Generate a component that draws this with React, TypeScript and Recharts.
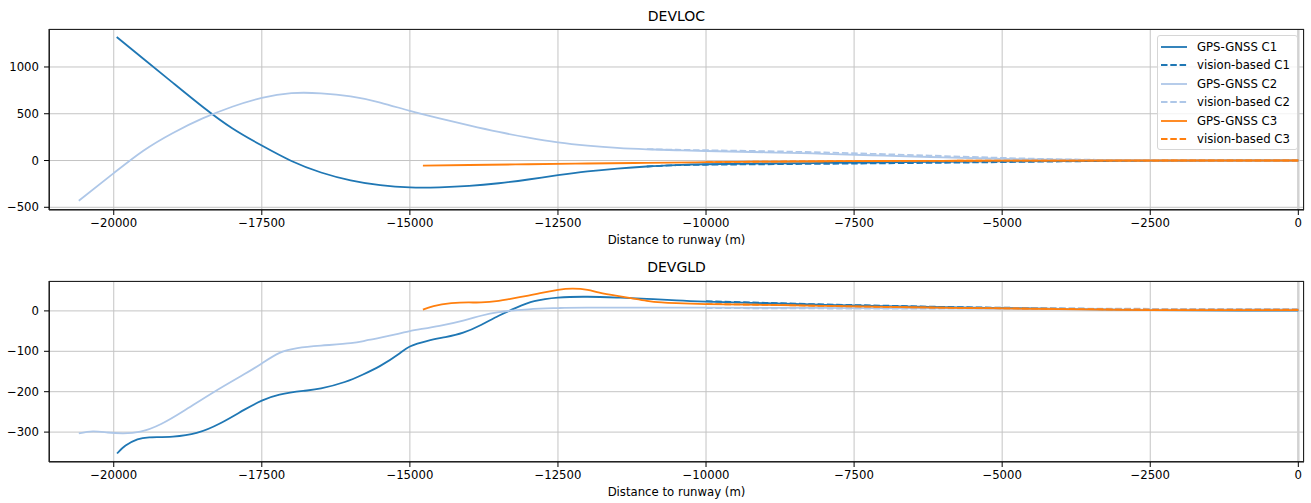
import React from 'react';
import { LineChart, Line, XAxis, YAxis, CartesianGrid, ReferenceLine } from 'recharts';

const FONT = '"DejaVu Sans", "Liberation Sans", sans-serif';
const C1 = '#1f77b4';
const C2 = '#aec7e8';
const C3 = '#ff7f0e';

const X_TICKS = [-20000, -17500, -15000, -12500, -10000, -7500, -5000, -2500, 0];
const LOC_Y_TICKS = [-500, 0, 500, 1000];
const GLD_Y_TICKS = [-300, -200, -100, 0];

// DEVLOC — [distance (m), deviation]
const LOC_C1_GPS = [
  [-19950, 1320], [-19500, 1088], [-19000, 830], [-18500, 575], [-18000, 345], [-17500, 160],
  [-17000, -5], [-16500, -128], [-16000, -212], [-15500, -264], [-15000, -288], [-14500, -287],
  [-14000, -272], [-13500, -243], [-13000, -203], [-12500, -157], [-12000, -116], [-11500, -86],
  [-11000, -64], [-10500, -49], [-10000, -40], [-9000, -32], [-8000, -26], [-7000, -20],
  [-6000, -14], [-5000, -9], [-4000, -5], [-3000, -2], [-2000, -1], [-1000, 0], [0, 0],
];
const LOC_C1_VIS = [
  [-11000, -64], [-10500, -50], [-10000, -45], [-9000, -40], [-8000, -35], [-7000, -30],
  [-6000, -24], [-5000, -17], [-4000, -10], [-3000, -4], [-2000, -1], [-1000, 0], [0, 0],
];
const LOC_C2_GPS = [
  [-20590, -430], [-20000, -135], [-19500, 105], [-19000, 295], [-18500, 450], [-18000, 575],
  [-17500, 670], [-17000, 720], [-16500, 718], [-16000, 685], [-15500, 620], [-15000, 530],
  [-14500, 450], [-14000, 375], [-13500, 305], [-13000, 245], [-12500, 195], [-12000, 160],
  [-11500, 135], [-11000, 120], [-10500, 110], [-10000, 102], [-9000, 88], [-8000, 72],
  [-7000, 52], [-6000, 34], [-5000, 18], [-4000, 8], [-3000, 3], [-2000, 1], [-1000, 0], [0, 0],
];
const LOC_C2_VIS = [
  [-11000, 122], [-10500, 115], [-10000, 110], [-9000, 100], [-8000, 86], [-7000, 68],
  [-6000, 48], [-5000, 28], [-4000, 13], [-3000, 5], [-2000, 1], [-1000, 0], [0, 0],
];
const LOC_C3_GPS = [
  [-14780, -54], [-14000, -48], [-13000, -40], [-12000, -32], [-11000, -25], [-10000, -18],
  [-9000, -12], [-8000, -8], [-7000, -5], [-6000, -3], [-5000, -2], [-4000, -1], [-3000, 0], [0, 0],
];
const LOC_C3_VIS = [
  [-10000, -18], [-9000, -12], [-8000, -8], [-7000, -5], [-6000, -3], [-4000, -1], [-2000, 0], [0, 0],
];

// DEVGLD — [distance (m), deviation]
const GLD_C1_GPS = [
  [-19944, -353], [-19800, -333], [-19600, -318], [-19400, -313], [-19000, -311], [-18600, -302],
  [-18200, -278], [-17800, -245], [-17500, -222], [-17200, -207], [-16800, -198], [-16500, -192],
  [-16100, -176], [-15800, -158], [-15500, -136], [-15200, -108], [-15000, -88], [-14700, -74],
  [-14400, -65], [-14100, -54], [-13800, -35], [-13500, -12], [-13200, 8], [-12900, 24],
  [-12500, 33], [-12000, 35], [-11500, 33], [-11000, 30], [-10500, 26], [-10000, 23],
  [-9000, 19], [-8000, 15], [-7000, 12], [-6000, 9], [-5000, 7], [-4000, 5], [-2500, 2],
  [-1000, 1], [0, 1],
];
const GLD_C1_VIS = [
  [-10000, 24], [-9000, 20], [-8000, 16], [-7000, 13], [-6000, 10], [-5000, 8], [-4000, 6],
  [-2000, 3], [0, 3],
];
const GLD_C2_GPS = [
  [-20590, -303], [-20350, -298], [-20100, -301], [-19850, -303], [-19550, -299], [-19200, -280],
  [-18800, -246], [-18300, -200], [-17800, -157], [-17500, -130], [-17200, -104], [-16900, -92],
  [-16500, -86], [-16000, -80], [-15700, -72], [-15200, -57], [-15000, -50], [-14500, -37],
  [-14100, -24], [-13800, -12], [-13500, -3], [-13000, 4], [-12500, 7], [-12000, 8],
  [-10000, 8], [-7500, 7], [-5000, 5], [-2500, 3], [0, 4],
];
const GLD_C2_VIS = [
  [-10000, 7], [-8000, 6], [-6000, 6], [-4000, 6], [-2000, 5], [0, 5],
];
const GLD_C3_GPS = [
  [-14780, 3], [-14600, 12], [-14300, 19], [-14000, 21], [-13800, 21], [-13500, 25], [-13300, 30],
  [-13000, 38], [-12800, 44], [-12500, 52], [-12250, 55], [-12000, 52], [-11800, 45],
  [-11500, 37], [-11250, 31], [-11000, 25], [-10750, 21], [-10500, 19], [-10000, 17],
  [-9000, 15], [-7500, 11], [-5000, 6], [-2500, 2], [0, 2],
];
const GLD_C3_VIS = [
  [-10000, 17], [-9000, 15], [-7500, 11], [-6000, 8], [-4000, 5], [-2000, 3], [0, 3],
];

const SERIES = [
  { name: 'GPS-GNSS C1', color: C1, dash: false },
  { name: 'vision-based C1', color: C1, dash: true },
  { name: 'GPS-GNSS C2', color: C2, dash: false },
  { name: 'vision-based C2', color: C2, dash: true },
  { name: 'GPS-GNSS C3', color: C3, dash: false },
  { name: 'vision-based C3', color: C3, dash: true },
];

const LOC_DATA = [LOC_C1_GPS, LOC_C1_VIS, LOC_C2_GPS, LOC_C2_VIS, LOC_C3_GPS, LOC_C3_VIS];
const GLD_DATA = [GLD_C1_GPS, GLD_C1_VIS, GLD_C2_GPS, GLD_C2_VIS, GLD_C3_GPS, GLD_C3_VIS];

const toPts = (arr: number[][]) => arr.map(([x, y]) => ({ x, y }));
const fmtTick = (v: number) => (v < 0 ? '\u2212' + Math.abs(v) : String(v));
const DASH = '6.5 2.8';
const tickStyle = { fill: '#000', fontSize: 11.7, fontFamily: FONT };

function Panel({ data, yTicks, yDomain, height, top, title }: any) {
  return (
    <div style={{ position: 'absolute', left: 0, top, width: 1311, height }}>
      <LineChart width={1311} height={height} margin={{ top: top === 0 ? 29 : 31, right: 7, left: 4, bottom: 0 }}>
        <CartesianGrid stroke="#c4c4c4" strokeWidth={1} />
        <XAxis
          type="number" dataKey="x" domain={[-21093, 96]} allowDataOverflow ticks={X_TICKS}
          tickFormatter={fmtTick} tick={tickStyle} tickSize={5} tickMargin={4}
          tickLine={{ stroke: '#000' }} axisLine={{ stroke: '#222' }} height={top === 0 ? 40 : 41}
          label={{ value: 'Distance to runway (m)', position: 'insideBottom', offset: top === 0 ? 6 : 7, fill: '#000', fontSize: 11.7, fontFamily: FONT }}
        />
        <YAxis
          type="number" dataKey="y" domain={yDomain} allowDataOverflow ticks={yTicks}
          tickFormatter={fmtTick} tick={tickStyle} tickSize={5} tickMargin={5} width={45}
          tickLine={{ stroke: '#000' }} axisLine={{ stroke: '#222' }}
        />
        <ReferenceLine x={0} stroke="#d2d2d2" strokeWidth={2.5} />
        {data.map((d: number[][], i: number) => (
          <Line
            key={SERIES[i].name} data={toPts(d)} dataKey="y" name={SERIES[i].name}
            type="natural" stroke={SERIES[i].color} strokeWidth={1.8}
            strokeDasharray={SERIES[i].dash ? DASH : undefined}
            dot={false} activeDot={false} isAnimationActive={false}
          />
        ))}
      </LineChart>
      <div style={{
        position: 'absolute', left: 0, width: 1353, top: top === 0 ? 8 : 9, textAlign: 'center',
        fontFamily: FONT, fontSize: 14, color: '#000',
      }}>{title}</div>
      <div style={{
        position: 'absolute', left: 49, top: top === 0 ? 29 : 31, width: 1255, height: 181,
        border: '1px solid #222', boxSizing: 'border-box',
        pointerEvents: 'none', marginLeft: -0.5, marginTop: -0.5,
      }} />
    </div>
  );
}

function LegendBox() {
  return (
    <div style={{
      position: 'absolute', left: 1157, top: 35, width: 141, height: 115,
      border: '1px solid #d6d6d6', borderRadius: 3, background: 'rgba(255,255,255,0.8)',
      boxSizing: 'border-box', fontFamily: FONT, fontSize: 11.7, color: '#000',
    }}>
      {SERIES.map((s, i) => (
        <div key={s.name} style={{ position: 'absolute', left: 2, top: 2 + i * 18.4, height: 18, display: 'flex', alignItems: 'center' }}>
          <svg width={30} height={10} style={{ display: 'block' }}>
            <line x1={1} y1={5} x2={27} y2={5} stroke={s.color} strokeWidth={1.8} strokeDasharray={s.dash ? DASH : undefined} />
          </svg>
          <span style={{ marginLeft: 7, whiteSpace: 'nowrap' }}>{s.name}</span>
        </div>
      ))}
    </div>
  );
}

export default function App() {
  return (
    <div style={{ position: 'absolute', left: 0, top: 0, width: 1311, height: 503, background: '#fff', overflow: 'hidden' }}>
      <Panel data={LOC_DATA} yTicks={LOC_Y_TICKS} yDomain={[-529, 1406]} height={250} top={0} title="DEVLOC" />
      <Panel data={GLD_DATA} yTicks={GLD_Y_TICKS} yDomain={[-374, 74]} height={253} top={250} title="DEVGLD" />
      <LegendBox />
    </div>
  );
}
